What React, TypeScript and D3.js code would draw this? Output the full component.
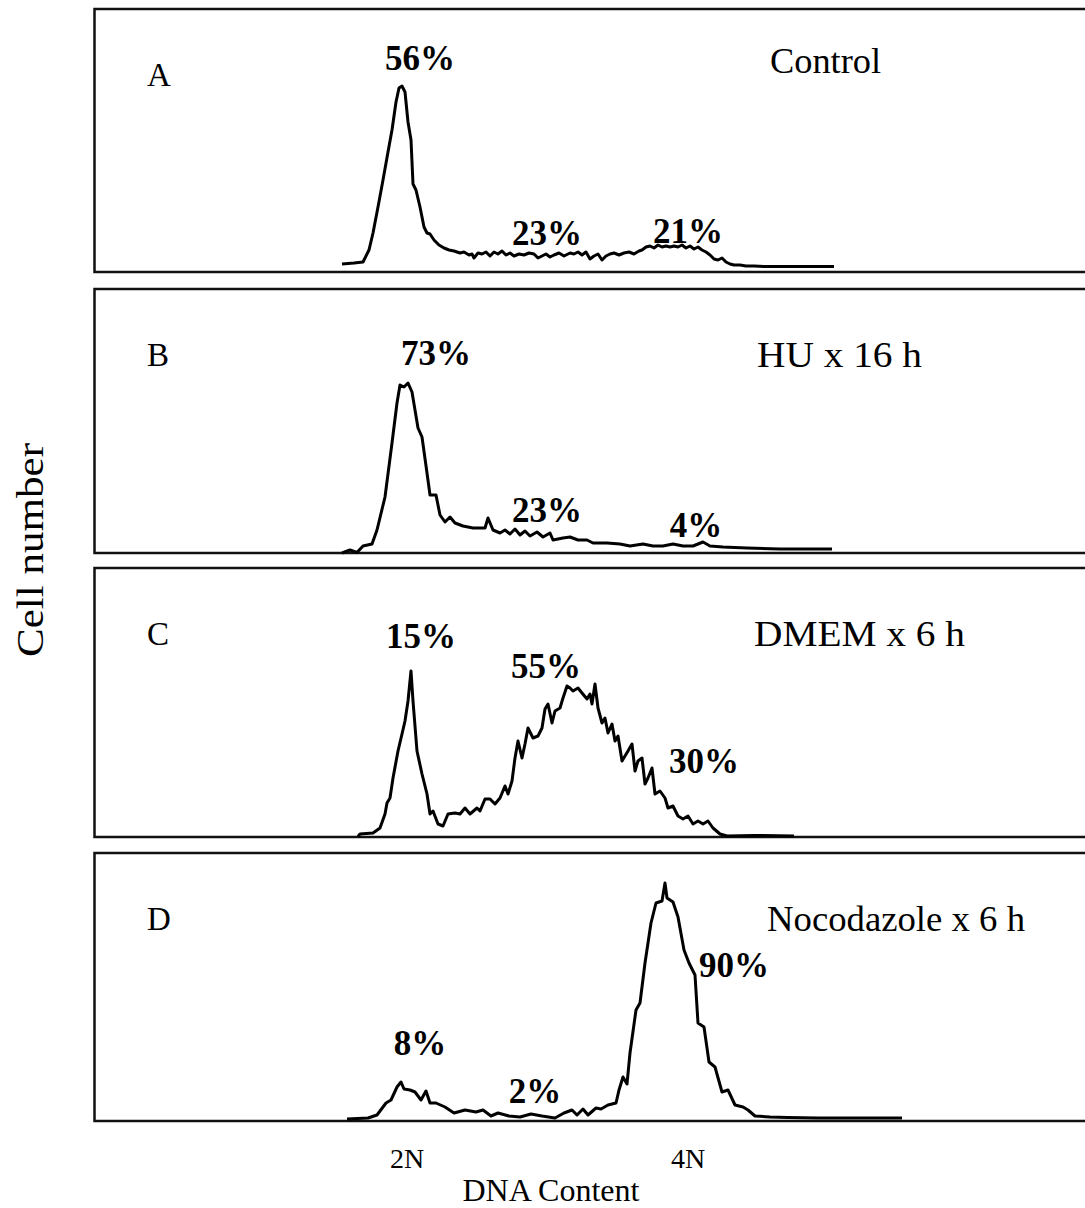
import React from "react";
import * as d3 from "d3";

// DNA content channel (x) and cell count in arbitrary units (y)
const controlHist: [number, number][] = [
  [248, 8], [260, 9], [269, 10], [275, 22], [279, 39], [284, 65], [289, 92], [294, 120], [298, 142],
  [302, 170], [305, 184], [308, 186], [311, 180], [314, 150], [317, 132], [319, 88], [322, 82],
  [326, 65], [330, 45], [333, 39], [336, 38], [340, 32], [345, 27], [350, 24], [355, 22], [360, 21],
  [366, 19], [370, 20], [375, 17], [378, 18], [380, 14], [384, 19], [388, 18], [392, 20], [396, 16],
  [400, 20], [404, 18], [408, 21], [412, 17], [416, 19], [420, 16], [425, 18], [430, 17], [435, 19],
  [440, 18], [444, 14], [448, 16], [452, 18], [456, 15], [460, 17], [465, 19], [470, 16], [476, 19],
  [480, 18], [484, 20], [488, 17], [492, 20], [496, 13], [500, 16], [504, 18], [508, 12], [512, 16],
  [516, 18], [520, 19], [525, 17], [530, 19], [535, 20], [540, 18], [545, 21], [548, 22], [552, 25],
  [556, 26], [560, 24], [564, 27], [568, 25], [572, 26], [576, 25], [580, 26], [584, 25], [588, 27],
  [592, 24], [596, 26], [600, 23], [604, 25], [608, 22], [612, 20], [616, 17], [620, 13], [624, 12],
  [628, 14], [632, 10], [636, 8], [640, 7], [646, 7], [652, 6], [660, 6], [670, 5.5], [700, 5.5], [740, 5.5],
];

const huHist: [number, number][] = [
  [248, 0], [256, 3], [263, 0.5], [269, 7], [278, 9], [283, 23], [291, 56], [298, 110], [303, 150],
  [306, 168], [310, 166], [314, 170], [318, 161], [321, 143], [324, 125], [328, 116], [333, 80],
  [336, 58], [342, 58], [346, 38], [351, 31], [356, 36], [361, 30], [369, 27], [379, 25], [391, 25],
  [394, 35], [399, 23], [406, 20], [411, 23], [416, 19], [421, 24], [426, 18], [431, 22], [436, 17],
  [443, 21], [449, 16], [456, 20], [459, 13], [469, 15], [476, 16], [484, 13], [493, 13], [499, 10],
  [513, 10], [526, 9], [536, 7], [549, 9], [559, 7], [569, 7], [579, 9], [589, 7], [599, 7], [609, 11],
  [616, 7], [629, 6], [653, 5], [686, 4], [738, 4],
];

const dmemHist: [number, number][] = [
  [264, 0.5], [266, 3], [279, 4], [286, 9], [291, 23], [293, 34], [296, 39], [299, 59], [304, 86],
  [308, 103], [311, 116], [314, 136], [317, 166], [319, 136], [323, 86], [328, 63], [333, 43],
  [336, 23], [339, 26], [344, 13], [349, 11], [354, 23], [361, 24], [366, 23], [371, 29], [376, 23],
  [383, 29], [386, 26], [391, 38], [396, 38], [401, 33], [406, 39], [411, 51], [414, 43], [418, 56],
  [421, 79], [424, 96], [428, 79], [431, 93], [434, 109], [439, 99], [444, 101], [448, 109], [451, 128],
  [454, 133], [458, 114], [461, 126], [466, 129], [469, 139], [473, 151], [476, 149], [479, 146],
  [484, 149], [488, 144], [493, 138], [496, 143], [498, 133], [501, 153], [504, 129], [508, 114],
  [511, 119], [514, 104], [518, 113], [521, 96], [524, 101], [528, 76], [531, 81], [534, 86], [538, 93],
  [541, 66], [544, 76], [548, 79], [551, 53], [554, 59], [558, 69], [561, 43], [566, 46], [571, 39],
  [574, 29], [579, 31], [584, 21], [589, 18], [594, 21], [599, 13], [604, 16], [609, 13], [614, 16],
  [619, 9], [626, 3], [633, 1], [660, 1.5], [700, 1],
];

const nocoHist: [number, number][] = [
  [253, 2], [274, 3], [283, 6], [292, 18], [297, 21], [303, 34], [307, 39], [310, 32], [316, 31],
  [321, 29], [327, 21], [332, 30], [336, 18], [342, 18], [351, 14], [360, 8], [371, 11], [382, 9],
  [389, 11], [397, 5], [404, 8], [415, 5], [426, 4], [437, 7], [448, 5], [461, 3], [470, 8], [478, 11],
  [483, 6], [489, 12], [494, 6], [502, 13], [507, 12], [514, 16], [522, 18], [525, 31], [529, 44],
  [533, 37], [536, 68], [542, 111], [546, 118], [551, 158], [557, 198], [562, 218], [568, 220],
  [571, 238], [573, 223], [579, 219], [584, 204], [590, 171], [595, 158], [601, 146], [604, 98],
  [610, 94], [615, 59], [621, 54], [628, 29], [634, 31], [641, 16], [649, 14], [654, 11], [661, 5],
  [676, 4], [694, 3.5], [724, 3], [808, 3],
];

const panelLetters = ["A", "B", "C", "D"];
const conditions = ["Control", "HU x 16 h", "DMEM x 6 h", "Nocodazole x 6 h"];
const histograms = [controlHist, huHist, dmemHist, nocoHist];
// phase percentages: [label, channel position, count position]
const phaseLabels: [string, number, number][][] = [
  [["56%", 326, 202], ["23%", 453, 27], ["21%", 594, 29]],
  [["73%", 342, 188], ["23%", 453, 31], ["4%", 602, 16]],
  [["15%", 327, 189], ["55%", 452, 159], ["30%", 610, 64]],
  [["8%", 326, 66], ["2%", 441, 18], ["90%", 640, 144]],
];
const tickChannels = [313, 594];
const tickLabels = ["2N", "4N"];

const FONT = "'Liberation Serif', 'Times New Roman', 'DejaVu Serif', serif";

export default function App() {
  const W = 1085;
  const H = 1208;
  const left = 94.5;
  const right = 1095;
  const tops = [9, 289, 568, 853];
  const bottoms = [272, 553, 837, 1121];
  const condX = [770, 757, 754, 767];
  const condW = [111, 165, 211, 258];
  const x = d3.scaleLinear().domain([0, 1000]).range([94, 1094]);

  return (
    <svg
      width={W}
      height={H}
      style={{ position: "absolute", left: 0, top: 0, background: "#fff" }}
      fontFamily={FONT}
    >
      <rect x={0} y={0} width={W} height={H} fill="#fff" />
      {histograms.map((hist, i) => {
        const y = d3.scaleLinear().domain([0, 265]).range([bottoms[i], bottoms[i] - 265]);
        const line = d3
          .line<[number, number]>()
          .x((d) => x(d[0]))
          .y((d) => y(d[1]));
        return (
          <g key={i}>
            <path
              d={`M${right},${tops[i]}H${left}V${bottoms[i]}H${right}`}
              fill="none"
              stroke="#111"
              strokeWidth={2.5}
            />
            <path d={line(hist) || ""} fill="none" stroke="#000" strokeWidth={3} strokeLinejoin="round" />
            <text x={147} y={tops[i] + 77} fontSize={33} fill="#000">
              {panelLetters[i]}
            </text>
            <text
              x={condX[i]}
              y={tops[i] + (i === 0 ? 64 : 78)}
              fontSize={35}
              fill="#000"
              textLength={condW[i]}
              lengthAdjust="spacingAndGlyphs"
            >
              {conditions[i]}
            </text>
            {phaseLabels[i].map(([t, cx, cy], j) => (
              <text
                key={j}
                x={x(cx)}
                y={y(cy)}
                fontSize={35}
                fontWeight="bold"
                textAnchor="middle"
                fill="#000"
              >
                {t}
              </text>
            ))}
          </g>
        );
      })}
      {tickChannels.map((c, i) => (
        <text key={i} x={x(c)} y={1168} fontSize={28} textAnchor="middle" fill="#000">
          {tickLabels[i]}
        </text>
      ))}
      <text x={551} y={1201} fontSize={31} textAnchor="middle" fill="#000" textLength={177} lengthAdjust="spacingAndGlyphs">
        DNA Content
      </text>
      <text
        transform="translate(43,550) rotate(-90)"
        fontSize={38}
        textAnchor="middle"
        fill="#000"
        textLength={214}
        lengthAdjust="spacingAndGlyphs"
      >
        Cell number
      </text>
    </svg>
  );
}
